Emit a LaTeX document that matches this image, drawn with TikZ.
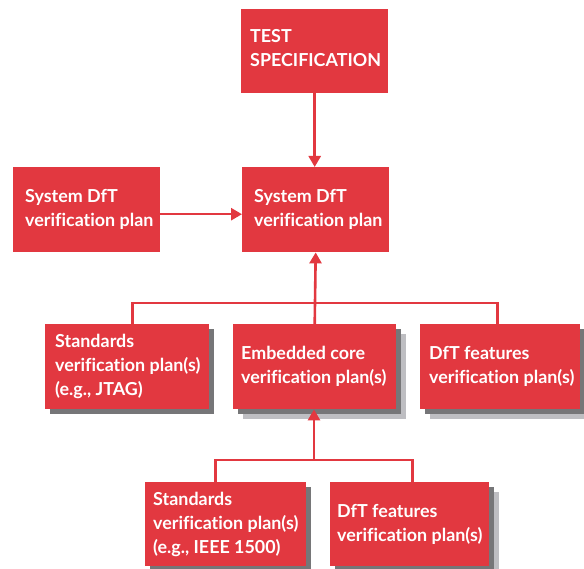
\documentclass[tikz,border=0pt]{standalone}
\usepackage{fontspec}
\setmainfont{Lato}[Ligatures=NoCommon]
\usetikzlibrary{arrows.meta,shadows}
\definecolor{boxred}{RGB}{226,56,64}
\definecolor{shdark}{RGB}{118,118,120}
\definecolor{shlight}{RGB}{190,190,194}
\begin{document}
\begin{tikzpicture}[x=1pt,y=-1pt,
  box/.style={fill=boxred, draw=none, anchor=north west, inner sep=0pt},
  darksh/.style={general shadow={shadow xshift=5pt, shadow yshift=-5pt, fill=shdark}},
  lightsh/.style={general shadow={shadow xshift=10pt, shadow yshift=-10pt, fill=shlight}},
  lbl/.style={anchor=west, inner sep=0pt, text=white, align=left,
    font=\fontsize{17.9}{23.8}\selectfont\bfseries},
  conn/.style={draw=boxred, line width=2.6pt, line join=miter},
  arr/.style={conn, -{Triangle[width=12pt,length=11pt]}}]
\useasboundingbox (0,0) rectangle (584,569);
% boxes
\node[box, minimum width=147pt, minimum height=84pt] (ts) at (241,9) {};
\node[box, minimum width=147pt, minimum height=85pt] (l) at (13,167) {};
\node[box, minimum width=147pt, minimum height=85pt] (c) at (242,167) {};
\node[box, darksh, minimum width=164pt, minimum height=85pt] (s1) at (45,324) {};
\node[box, lightsh, darksh, minimum width=163pt, minimum height=85pt] (e) at (233,324) {};
\node[box, lightsh, darksh, minimum width=160pt, minimum height=85pt] (d1) at (420,324) {};
\node[box, darksh, minimum width=161pt, minimum height=84pt] (s2) at (145,482) {};
\node[box, lightsh, darksh, minimum width=159pt, minimum height=84pt] (d2) at (330,482) {};
% labels
\node[lbl] (tst) at ([xshift=9pt,yshift=3pt]ts.west) {TEST\\SPECIFICATION};
\node[lbl] (lt) at ([xshift=12pt]l.west) {System DfT\\verification plan};
\node[lbl] (ct) at ([xshift=12pt]c.west) {System DfT\\verification plan};
\node[lbl] (s1t) at ([xshift=10pt]s1.west) {Standards\\verification plan(s)\\(e.g., JTAG)};
\node[lbl] (et) at ([xshift=8pt]e.west) {Embedded core\\verification plan(s)};
\node[lbl] (d1t) at ([xshift=9pt]d1.west) {DfT features\\verification plan(s)};
\node[lbl] (s2t) at ([xshift=8pt]s2.west) {Standards\\verification plan(s)\\(e.g., IEEE 1500)};
\node[lbl] (d2t) at ([xshift=7pt]d2.west) {DfT features\\verification plan(s)};
% connectors
\coordinate (bus1) at (315,303);
\coordinate (bus2) at (314,460);
\draw[arr] (ts.south) -- (ts.south |- c.north);
\draw[arr] ([yshift=-4.5pt]l.east) -- ([yshift=-4.5pt]c.west);
\draw[conn] ([xshift=5pt]s1.north) |- (bus1) -| ([xshift=-3pt]d1.north);
\draw[arr] (e.north) -- (c.south);
\draw[conn] ([xshift=-10.5pt]s2.north) |- (bus2) -| ([xshift=2.5pt]d2.north);
\draw[arr] (bus2) -- (bus2 |- e.south);
\end{tikzpicture}
\end{document}
